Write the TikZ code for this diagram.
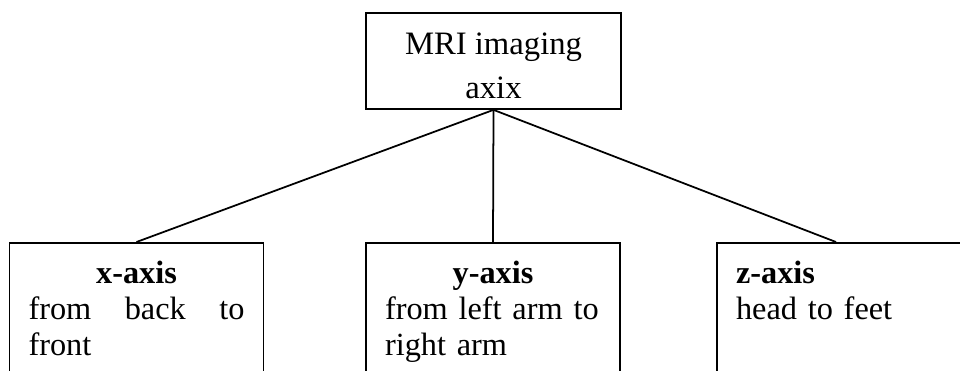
\documentclass[tikz,border=0pt]{standalone}
\usepackage{fontspec}
\setmainfont{Liberation Serif}
\usepackage{tikz}
\usetikzlibrary{positioning}

\begin{document}
\begin{tikzpicture}[
    x=0.02cm, y=-0.02cm,
    root/.style={rectangle, draw=black, line width=1pt, minimum width=5.1cm, minimum height=1.92cm, align=center, text height=1.5cm, text depth=0cm, font=\fontsize{18.6pt}{22pt}\selectfont},
    leaf/.style={rectangle, draw=black, line width=1pt, anchor=north, text width=4.32cm, inner xsep=0.38cm, inner ysep=0.37cm, text height=0.45cm, text depth=1.9cm, align=left, font=\fontsize{18.4pt}{20.5pt}\selectfont},
    link/.style={line width=1pt}
]
    \useasboundingbox (0,0) rectangle (960,370);
    \clip (0,0) rectangle (960,370);

    % imaging axes
    \node[root] (mri) at (493.5,61) {MRI imaging\\[0.1cm]axix};

    \node[leaf] (xaxis) at (136.5,242) {{\centering\textbf{x-axis}\par}from\hfill back\hfill to\par front};
    \node[leaf] (yaxis) at (493,242) {{\centering\textbf{y-axis}\par}from left arm to\\right arm};
    \node[leaf] (zaxis) at (844,242) {\textbf{z-axis}\par head to feet};
    \coordinate (zjoin) at ([xshift=-0.16cm]zaxis.north);

    \draw[link] (mri.south) -- (xaxis.north);
    \draw[link] (mri.south) -- (yaxis.north);
    \draw[link] (mri.south) -- (zjoin);
\end{tikzpicture}
\end{document}
